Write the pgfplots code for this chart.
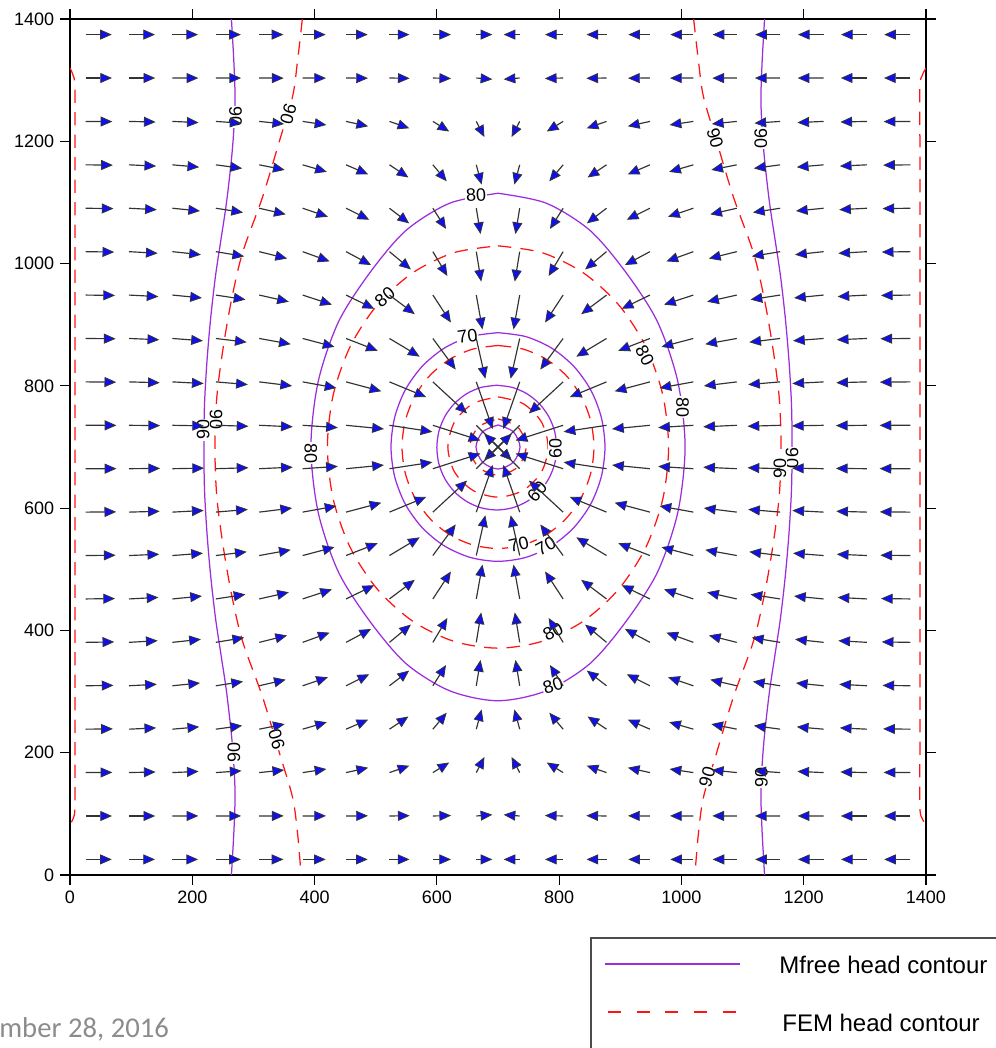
\documentclass[border=0pt]{standalone}
\usepackage{fontspec}
\setmainfont{Liberation Sans}
\newfontfamily\footfont{Carlito}
\usepackage{pgfplots}
\pgfplotsset{compat=1.18}
\usepackage{pgfplotstable}
\usetikzlibrary{arrows.meta}
\definecolor{mpurple}{RGB}{155,45,220}
\definecolor{fred}{RGB}{255,20,20}
\definecolor{arrowblue}{RGB}{15,15,240}
\definecolor{footgray}{RGB}{140,140,140}
\tikzset{lbl/.style={font=\fontsize{10.8}{12}\selectfont, fill=white, inner sep=0.6pt}}

% velocity field: tail position (x,y) and vector (u,v)
\pgfplotstableread{
x y u v
25.5 1374.5 42.8 0
96.5 1374.5 42.5 0
167.5 1374.5 41.9 0
238.5 1374.5 40.9 0
309.5 1374.5 39.5 0
380.5 1374.5 37.7 0
451.5 1374.5 35.4 0
522.5 1374.5 32.7 0
593.5 1374.5 29.6 0
664.5 1374.5 26.2 0
735.5 1374.5 -26.2 0
806.5 1374.5 -29.6 0
877.5 1374.5 -32.7 0
948.5 1374.5 -35.4 0
1019.5 1374.5 -37.7 0
1090.5 1374.5 -39.5 0
1161.5 1374.5 -40.9 0
1232.5 1374.5 -41.9 0
1303.5 1374.5 -42.5 0
1374.5 1374.5 -42.8 0
25.5 1303.5 43.1 0
96.5 1303.5 42.8 0
167.5 1303.5 42.3 -0.1
238.5 1303.5 41.3 -0.1
309.5 1303.5 39.9 -0.2
380.5 1303.5 38.1 -0.2
451.5 1303.5 35.8 -0.3
522.5 1303.5 33.0 -0.5
593.5 1303.5 29.8 -0.8
664.5 1303.5 26.2 -2.1
735.5 1303.5 -26.2 -2.1
806.5 1303.5 -29.8 -0.8
877.5 1303.5 -33.0 -0.5
948.5 1303.5 -35.8 -0.3
1019.5 1303.5 -38.1 -0.2
1090.5 1303.5 -39.9 -0.2
1161.5 1303.5 -41.3 -0.1
1232.5 1303.5 -42.3 -0.1
1303.5 1303.5 -42.8 0
1374.5 1303.5 -43.1 0
25.5 1232.5 43.7 -0.3
96.5 1232.5 43.5 -1.0
167.5 1232.5 42.9 -1.9
238.5 1232.5 42.0 -2.9
309.5 1232.5 40.7 -4.2
380.5 1232.5 38.8 -5.8
451.5 1232.5 36.1 -8.0
522.5 1232.5 32.4 -11.2
593.5 1232.5 26.7 -16.5
664.5 1232.5 13.3 -25.5
735.5 1232.5 -13.3 -25.5
806.5 1232.5 -26.7 -16.5
877.5 1232.5 -32.4 -11.2
948.5 1232.5 -36.1 -8.0
1019.5 1232.5 -38.8 -5.8
1090.5 1232.5 -40.7 -4.2
1161.5 1232.5 -42.0 -2.9
1232.5 1232.5 -42.9 -1.9
1303.5 1232.5 -43.5 -1.0
1374.5 1232.5 -43.7 -0.3
25.5 1161.5 44.6 -0.5
96.5 1161.5 44.4 -2.1
167.5 1161.5 43.8 -3.8
238.5 1161.5 43.0 -5.8
309.5 1161.5 41.6 -8.3
380.5 1161.5 39.5 -11.5
451.5 1161.5 36.2 -15.6
522.5 1161.5 31.0 -20.7
593.5 1161.5 22.6 -26.9
664.5 1161.5 8.7 -32.3
735.5 1161.5 -8.7 -32.3
806.5 1161.5 -22.6 -26.9
877.5 1161.5 -31.0 -20.7
948.5 1161.5 -36.2 -15.6
1019.5 1161.5 -39.5 -11.5
1090.5 1161.5 -41.6 -8.3
1161.5 1161.5 -43.0 -5.8
1232.5 1161.5 -43.8 -3.8
1303.5 1161.5 -44.4 -2.1
1374.5 1161.5 -44.6 -0.5
25.5 1090.5 45.6 -0.6
96.5 1090.5 45.5 -2.4
167.5 1090.5 45.2 -4.5
238.5 1090.5 44.5 -6.9
309.5 1090.5 43.3 -10.0
380.5 1090.5 41.3 -13.9
451.5 1090.5 37.9 -18.8
522.5 1090.5 32.2 -24.8
593.5 1090.5 21.5 -33.8
664.5 1090.5 6.9 -42.1
735.5 1090.5 -6.9 -42.1
806.5 1090.5 -21.5 -33.8
877.5 1090.5 -32.2 -24.8
948.5 1090.5 -37.9 -18.8
1019.5 1090.5 -41.3 -13.9
1090.5 1090.5 -43.3 -10.0
1161.5 1090.5 -44.5 -6.9
1232.5 1090.5 -45.2 -4.5
1303.5 1090.5 -45.5 -2.4
1374.5 1090.5 -45.6 -0.6
25.5 1019.5 46.8 -0.7
96.5 1019.5 46.8 -2.7
167.5 1019.5 46.6 -5.0
238.5 1019.5 46.3 -7.7
309.5 1019.5 45.5 -11.3
380.5 1019.5 44.0 -15.9
451.5 1019.5 40.9 -21.9
522.5 1019.5 35.1 -29.1
593.5 1019.5 23.7 -39.8
664.5 1019.5 8.0 -48.9
735.5 1019.5 -8.0 -48.9
806.5 1019.5 -23.7 -39.8
877.5 1019.5 -35.1 -29.1
948.5 1019.5 -40.9 -21.9
1019.5 1019.5 -44.0 -15.9
1090.5 1019.5 -45.5 -11.3
1161.5 1019.5 -46.3 -7.7
1232.5 1019.5 -46.6 -5.0
1303.5 1019.5 -46.8 -2.7
1374.5 1019.5 -46.8 -0.7
25.5 948.5 48.1 -0.6
96.5 948.5 48.1 -2.5
167.5 948.5 48.3 -4.7
238.5 948.5 48.4 -7.4
309.5 948.5 48.4 -10.9
380.5 948.5 47.9 -15.7
451.5 948.5 46.1 -22.4
522.5 948.5 41.4 -31.2
593.5 948.5 29.5 -44.9
664.5 948.5 10.1 -56.2
735.5 948.5 -10.1 -56.2
806.5 948.5 -29.5 -44.9
877.5 948.5 -41.4 -31.2
948.5 948.5 -46.1 -22.4
1019.5 948.5 -47.9 -15.7
1090.5 948.5 -48.4 -10.9
1161.5 948.5 -48.4 -7.4
1232.5 948.5 -48.3 -4.7
1303.5 948.5 -48.1 -2.5
1374.5 948.5 -48.1 -0.6
25.5 877.5 49.1 -0.5
96.5 877.5 49.4 -2.1
167.5 877.5 49.9 -3.8
238.5 877.5 50.5 -6.1
309.5 877.5 51.5 -9.3
380.5 877.5 52.1 -13.7
451.5 877.5 51.8 -20.1
522.5 877.5 49.4 -29.7
593.5 877.5 37.3 -50.8
664.5 877.5 14.8 -65.8
735.5 877.5 -14.8 -65.8
806.5 877.5 -37.3 -50.8
877.5 877.5 -49.4 -29.7
948.5 877.5 -51.8 -20.1
1019.5 877.5 -52.1 -13.7
1090.5 877.5 -51.5 -9.3
1161.5 877.5 -50.5 -6.1
1232.5 877.5 -49.9 -3.8
1303.5 877.5 -49.4 -2.1
1374.5 877.5 -49.1 -0.5
25.5 806.5 50.0 -0.4
96.5 806.5 50.3 -1.4
167.5 806.5 51.0 -2.7
238.5 806.5 52.3 -4.4
309.5 806.5 53.7 -6.6
380.5 806.5 55.3 -10.0
451.5 806.5 57.6 -15.3
522.5 806.5 60.0 -24.8
593.5 806.5 55.9 -51.6
664.5 806.5 26.9 -77.0
735.5 806.5 -26.9 -77.0
806.5 806.5 -55.9 -51.6
877.5 806.5 -60.0 -24.8
948.5 806.5 -57.6 -15.3
1019.5 806.5 -55.3 -10.0
1090.5 806.5 -53.7 -6.6
1161.5 806.5 -52.3 -4.4
1232.5 806.5 -51.0 -2.7
1303.5 806.5 -50.3 -1.4
1374.5 806.5 -50.0 -0.4
25.5 735.5 50.4 -0.1
96.5 735.5 50.8 -0.5
167.5 735.5 51.7 -1.0
238.5 735.5 53.3 -1.6
309.5 735.5 54.8 -2.5
380.5 735.5 57.5 -3.8
451.5 735.5 61.9 -6.0
522.5 735.5 70.1 -10.6
593.5 735.5 77.7 -24.8
664.5 735.5 58.0 -57.4
735.5 735.5 -58.0 -57.4
806.5 735.5 -77.7 -24.8
877.5 735.5 -70.1 -10.6
948.5 735.5 -61.9 -6.0
1019.5 735.5 -57.5 -3.8
1090.5 735.5 -54.8 -2.5
1161.5 735.5 -53.3 -1.6
1232.5 735.5 -51.7 -1.0
1303.5 735.5 -50.8 -0.5
1374.5 735.5 -50.4 -0.1
25.5 664.5 50.4 0.1
96.5 664.5 50.8 0.5
167.5 664.5 51.7 1.0
238.5 664.5 53.3 1.6
309.5 664.5 54.8 2.5
380.5 664.5 57.5 3.8
451.5 664.5 61.9 6.0
522.5 664.5 70.1 10.6
593.5 664.5 77.7 24.8
664.5 664.5 58.0 57.4
735.5 664.5 -58.0 57.4
806.5 664.5 -77.7 24.8
877.5 664.5 -70.1 10.6
948.5 664.5 -61.9 6.0
1019.5 664.5 -57.5 3.8
1090.5 664.5 -54.8 2.5
1161.5 664.5 -53.3 1.6
1232.5 664.5 -51.7 1.0
1303.5 664.5 -50.8 0.5
1374.5 664.5 -50.4 0.1
25.5 593.5 50.0 0.4
96.5 593.5 50.3 1.4
167.5 593.5 51.0 2.7
238.5 593.5 52.3 4.4
309.5 593.5 53.7 6.6
380.5 593.5 55.3 10.0
451.5 593.5 57.6 15.3
522.5 593.5 60.0 24.8
593.5 593.5 55.9 51.6
664.5 593.5 26.9 77.0
735.5 593.5 -26.9 77.0
806.5 593.5 -55.9 51.6
877.5 593.5 -60.0 24.8
948.5 593.5 -57.6 15.3
1019.5 593.5 -55.3 10.0
1090.5 593.5 -53.7 6.6
1161.5 593.5 -52.3 4.4
1232.5 593.5 -51.0 2.7
1303.5 593.5 -50.3 1.4
1374.5 593.5 -50.0 0.4
25.5 522.5 49.1 0.5
96.5 522.5 49.4 2.1
167.5 522.5 49.9 3.8
238.5 522.5 50.5 6.1
309.5 522.5 51.5 9.3
380.5 522.5 52.1 13.7
451.5 522.5 51.8 20.1
522.5 522.5 49.4 29.7
593.5 522.5 37.3 50.8
664.5 522.5 14.8 65.8
735.5 522.5 -14.8 65.8
806.5 522.5 -37.3 50.8
877.5 522.5 -49.4 29.7
948.5 522.5 -51.8 20.1
1019.5 522.5 -52.1 13.7
1090.5 522.5 -51.5 9.3
1161.5 522.5 -50.5 6.1
1232.5 522.5 -49.9 3.8
1303.5 522.5 -49.4 2.1
1374.5 522.5 -49.1 0.5
25.5 451.5 48.1 0.6
96.5 451.5 48.1 2.5
167.5 451.5 48.3 4.7
238.5 451.5 48.4 7.4
309.5 451.5 48.4 10.9
380.5 451.5 47.9 15.7
451.5 451.5 46.1 22.4
522.5 451.5 41.4 31.2
593.5 451.5 29.5 44.9
664.5 451.5 10.1 56.2
735.5 451.5 -10.1 56.2
806.5 451.5 -29.5 44.9
877.5 451.5 -41.4 31.2
948.5 451.5 -46.1 22.4
1019.5 451.5 -47.9 15.7
1090.5 451.5 -48.4 10.9
1161.5 451.5 -48.4 7.4
1232.5 451.5 -48.3 4.7
1303.5 451.5 -48.1 2.5
1374.5 451.5 -48.1 0.6
25.5 380.5 46.8 0.7
96.5 380.5 46.8 2.7
167.5 380.5 46.6 5.0
238.5 380.5 46.3 7.7
309.5 380.5 45.5 11.3
380.5 380.5 44.0 15.9
451.5 380.5 40.9 21.9
522.5 380.5 35.1 29.1
593.5 380.5 23.7 39.8
664.5 380.5 8.0 48.9
735.5 380.5 -8.0 48.9
806.5 380.5 -23.7 39.8
877.5 380.5 -35.1 29.1
948.5 380.5 -40.9 21.9
1019.5 380.5 -44.0 15.9
1090.5 380.5 -45.5 11.3
1161.5 380.5 -46.3 7.7
1232.5 380.5 -46.6 5.0
1303.5 380.5 -46.8 2.7
1374.5 380.5 -46.8 0.7
25.5 309.5 45.6 0.6
96.5 309.5 45.5 2.4
167.5 309.5 45.2 4.5
238.5 309.5 44.5 6.9
309.5 309.5 43.3 10.0
380.5 309.5 41.3 13.9
451.5 309.5 37.9 18.8
522.5 309.5 32.2 24.8
593.5 309.5 21.5 33.8
664.5 309.5 6.9 42.1
735.5 309.5 -6.9 42.1
806.5 309.5 -21.5 33.8
877.5 309.5 -32.2 24.8
948.5 309.5 -37.9 18.8
1019.5 309.5 -41.3 13.9
1090.5 309.5 -43.3 10.0
1161.5 309.5 -44.5 6.9
1232.5 309.5 -45.2 4.5
1303.5 309.5 -45.5 2.4
1374.5 309.5 -45.6 0.6
25.5 238.5 44.6 0.5
96.5 238.5 44.4 2.1
167.5 238.5 43.8 3.8
238.5 238.5 43.0 5.8
309.5 238.5 41.6 8.3
380.5 238.5 39.5 11.5
451.5 238.5 36.2 15.6
522.5 238.5 31.0 20.7
593.5 238.5 22.6 26.9
664.5 238.5 8.7 32.3
735.5 238.5 -8.7 32.3
806.5 238.5 -22.6 26.9
877.5 238.5 -31.0 20.7
948.5 238.5 -36.2 15.6
1019.5 238.5 -39.5 11.5
1090.5 238.5 -41.6 8.3
1161.5 238.5 -43.0 5.8
1232.5 238.5 -43.8 3.8
1303.5 238.5 -44.4 2.1
1374.5 238.5 -44.6 0.5
25.5 167.5 43.7 0.3
96.5 167.5 43.5 1.0
167.5 167.5 42.9 1.9
238.5 167.5 42.0 2.9
309.5 167.5 40.7 4.2
380.5 167.5 38.8 5.8
451.5 167.5 36.1 8.0
522.5 167.5 32.4 11.2
593.5 167.5 26.7 16.5
664.5 167.5 13.3 25.5
735.5 167.5 -13.3 25.5
806.5 167.5 -26.7 16.5
877.5 167.5 -32.4 11.2
948.5 167.5 -36.1 8.0
1019.5 167.5 -38.8 5.8
1090.5 167.5 -40.7 4.2
1161.5 167.5 -42.0 2.9
1232.5 167.5 -42.9 1.9
1303.5 167.5 -43.5 1.0
1374.5 167.5 -43.7 0.3
25.5 96.5 43.1 0
96.5 96.5 42.8 0
167.5 96.5 42.3 0.1
238.5 96.5 41.3 0.1
309.5 96.5 39.9 0.2
380.5 96.5 38.1 0.2
451.5 96.5 35.8 0.3
522.5 96.5 33.0 0.5
593.5 96.5 29.8 0.8
664.5 96.5 26.2 2.1
735.5 96.5 -26.2 2.1
806.5 96.5 -29.8 0.8
877.5 96.5 -33.0 0.5
948.5 96.5 -35.8 0.3
1019.5 96.5 -38.1 0.2
1090.5 96.5 -39.9 0.2
1161.5 96.5 -41.3 0.1
1232.5 96.5 -42.3 0.1
1303.5 96.5 -42.8 0
1374.5 96.5 -43.1 0
25.5 25.5 42.8 0
96.5 25.5 42.5 0
167.5 25.5 41.9 0
238.5 25.5 40.9 0
309.5 25.5 39.5 0
380.5 25.5 37.7 0
451.5 25.5 35.4 0
522.5 25.5 32.7 0
593.5 25.5 29.6 0
664.5 25.5 26.2 0
735.5 25.5 -26.2 0
806.5 25.5 -29.6 0
877.5 25.5 -32.7 0
948.5 25.5 -35.4 0
1019.5 25.5 -37.7 0
1090.5 25.5 -39.5 0
1161.5 25.5 -40.9 0
1232.5 25.5 -41.9 0
1303.5 25.5 -42.5 0
1374.5 25.5 -42.8 0
}\vel

\begin{document}
\begin{tikzpicture}
\begin{axis}[
  at={(42pt,103.8pt)}, anchor=south west,
  scale only axis, width=513.6pt, height=513.6pt,
  xmin=0, xmax=1400, ymin=0, ymax=1400,
  xtick={0,200,...,1400}, ytick={0,200,...,1400},
  tick align=outside, major tick length=6pt,
  tick style={black, line width=0.7pt},
  axis line style={black, line width=0.8pt},
  ticklabel style={font=\fontsize{10.8}{12}\selectfont},
  /pgf/number format/assume math mode=true,
  /pgf/number format/1000 sep={},
  mfree/.style={mpurple, line width=0.75pt, smooth, mark=none},
  fem/.style={fred, line width=0.75pt, smooth, mark=none, dash pattern=on 8pt off 5.5pt},
]
% ---- Mfree head contours ----
\addplot[mfree] coordinates {(264,1400) (268,1330) (270,1270) (268,1220) (264,1170) (256,1100) (247,1040) (238,980) (230,910) (224,840) (220,770) (219,700) (220,630) (224,560) (230,490) (238,420) (247,360) (256,300) (264,230) (268,180) (270,130) (268,70) (264,0)};
\addplot[mfree] coordinates {(1136,1400) (1132,1330) (1130,1270) (1132,1220) (1136,1170) (1144,1100) (1153,1040) (1162,980) (1170,910) (1176,840) (1180,770) (1181,700) (1180,630) (1176,560) (1170,490) (1162,420) (1153,360) (1144,300) (1136,230) (1132,180) (1130,130) (1132,70) (1136,0)};
\addplot[mfree] coordinates {(700,1115) (778.8,1098.8) (850.7,1054) (909.9,984.6) (961,904.4) (994.1,806.9) (1006,700) (994.1,593.1) (961,495.6) (909.9,415.4) (850.7,346) (778.8,301.2) (700,285) (621.2,301.2) (549.3,346) (490.1,415.4) (439,495.6) (405.9,593.1) (394,700) (405.9,806.9) (439,904.4) (490.1,984.6) (549.3,1054) (621.2,1098.8) (700,1115)};
\addplot[mfree] coordinates {(700,887) (745.3,880.6) (787.5,861.9) (823.7,832.2) (851.6,793.5) (869,748.4) (875,700) (869,651.6) (851.6,606.5) (823.7,567.8) (787.5,538.1) (745.3,519.4) (700,513) (654.7,519.4) (612.5,538.1) (576.3,567.8) (548.4,606.5) (531,651.6) (525,700) (531,748.4) (548.4,793.5) (576.3,832.2) (612.5,861.9) (654.7,880.6) (700,887)};
\addplot[mfree] coordinates {(698,801) (723.4,797.5) (747,787.3) (767.3,771.1) (782.9,750) (792.7,725.4) (796,699) (792.7,672.6) (782.9,648) (767.3,626.9) (747,610.7) (723.4,600.5) (698,597) (672.6,600.5) (649,610.7) (628.7,626.9) (613.1,648) (603.3,672.6) (600,699) (603.3,725.4) (613.1,750) (628.7,771.1) (649,787.3) (672.6,797.5) (698,801)};
\addplot[mfree] coordinates {(700,736) (725,725) (736,700) (725,675) (700,664) (675,675) (664,700) (675,725) (700,736)};
% ---- FEM head contours ----
\addplot[fem] coordinates {(380,1400) (372,1330) (364,1273) (343,1202) (315,1109) (282,1017) (264,940) (250,859) (240,780) (237,700) (240,620) (250,541) (264,460) (282,383) (315,291) (343,198) (364,127) (372,70) (378,0)};
\addplot[fem] coordinates {(1020,1400) (1028,1330) (1036,1273) (1057,1202) (1085,1109) (1118,1017) (1136,940) (1150,859) (1160,780) (1163,700) (1160,620) (1150,541) (1136,460) (1118,383) (1085,291) (1057,198) (1036,127) (1028,70) (1022,0)};
\addplot[fem] coordinates {(0,1320) (5,1308) (8,1290) (8,1200) (8,1000) (8,700) (8,400) (8,200) (8,110) (5,92) (0,82)};
\addplot[fem] coordinates {(1400,1320) (1394,1308) (1390,1290) (1390,1200) (1390,1000) (1390,700) (1390,400) (1390,200) (1390,110) (1394,92) (1400,82)};
\addplot[fem] coordinates {(700,1029) (772.2,1017.8) (839.5,984.9) (897.3,932.6) (941.6,864.5) (969.5,785.2) (979,700) (969.5,614.8) (941.6,535.5) (897.3,467.4) (839.5,415.1) (772.2,382.2) (700,371) (627.8,382.2) (560.5,415.1) (502.7,467.4) (458.4,535.5) (430.5,614.8) (421,700) (430.5,785.2) (458.4,864.5) (502.7,932.6) (560.5,984.9) (627.8,1017.8) (700,1029)};
\addplot[fem] coordinates {(700,866) (740.6,860.3) (778.5,843.8) (811,817.4) (836,783) (851.6,743) (857,700) (851.6,657) (836,617) (811,582.6) (778.5,556.2) (740.6,539.7) (700,534) (659.4,539.7) (621.5,556.2) (589,582.6) (564,617) (548.4,657) (543,700) (548.4,743) (564,783) (589,817.4) (621.5,843.8) (659.4,860.3) (700,866)};
\addplot[fem] coordinates {(700,782) (741,771) (771,741) (782,700) (771,659) (741,629) (700,618) (659,629) (629,659) (618,700) (629,741) (659,771) (700,782)};
\addplot[fem] coordinates {(700,746) (732.5,732.5) (746,700) (732.5,667.5) (700,654) (667.5,667.5) (654,700) (667.5,732.5) (700,746)};
% ---- contour labels ----
\node[lbl, rotate=-90] at (271,1240) {90};
\node[lbl, rotate=90] at (268,200) {90};
\node[lbl, rotate=-90] at (1130,1205) {90};
\node[lbl, rotate=90] at (1131,160) {90};
\node[lbl, rotate=90] at (218,728) {90};
\node[lbl, rotate=-90] at (1181,682) {90};
\node[lbl, rotate=-106] at (357,1245) {90};
\node[lbl, rotate=106] at (338,222) {90};
\node[lbl, rotate=-74] at (1055,1205) {90};
\node[lbl, rotate=74] at (1042,160) {90};
\node[lbl, rotate=-90] at (239,745) {90};
\node[lbl, rotate=90] at (1161,665) {90};
\node[lbl, rotate=3] at (664,1112) {80};
\node[lbl, rotate=-90] at (1002,765) {80};
\node[lbl, rotate=-90] at (394,690) {80};
\node[lbl, rotate=18] at (790,310) {80};
\node[lbl, rotate=40] at (515,945) {80};
\node[lbl, rotate=-62] at (940,850) {80};
\node[lbl, rotate=28] at (790,398) {80};
\node[lbl, rotate=8] at (650,881) {70};
\node[lbl, rotate=28] at (778,538) {70};
\node[lbl, rotate=13] at (734,541) {70};
\node[lbl, rotate=90] at (794,697) {60};
\node[lbl, rotate=48] at (764,627) {60};
% ---- velocity vectors ----
\addplot[draw=black!80, line width=0.7pt,
  -{Triangle[length=7pt, width=6pt, fill=arrowblue, line width=0.5pt]},
  quiver={u=\thisrow{u}, v=\thisrow{v}}] table[x=x, y=y] {\vel};
\end{axis}
\begin{scope}[x=0.6pt,y=0.6pt]
% ---- legend ----
\draw[black!70, line width=0.8pt] (591,110) rectangle (1010,-10);
\draw[mpurple, line width=1pt] (605,84) -- (740,84);
\draw[fred, line width=1pt, dash pattern=on 7.8pt off 9.4pt] (608,36) -- (736,36);
\node[anchor=west, inner sep=0pt, font=\fontsize{14.4}{17}\selectfont] at (779,83) {Mfree head contour};
\node[anchor=west, inner sep=0pt, font=\fontsize{14.4}{17}\selectfont] at (782,25) {FEM head contour};
% ---- slide footer fragment ----
\node[anchor=base west, inner sep=0pt, text=footgray, font=\footfont\fontsize{17.2}{20}\selectfont] at (-1,10) {mber 28, 2016};
\pgfresetboundingbox
\path[use as bounding box] (0,0) rectangle (996,1048);
\end{scope}
\end{tikzpicture}
\end{document}
